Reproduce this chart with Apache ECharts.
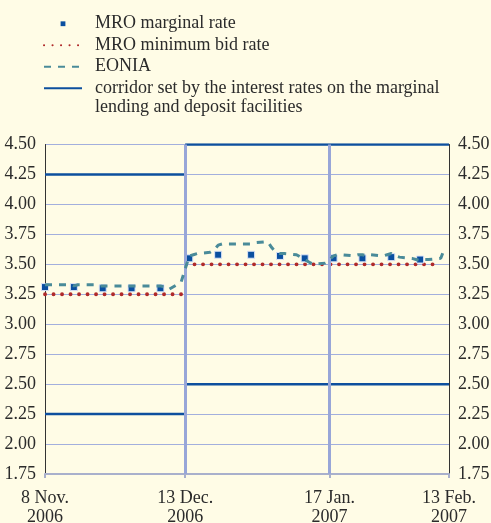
<!DOCTYPE html>
<html>
<head>
<meta charset="utf-8">
<script src="https://cdn.jsdelivr.net/npm/echarts@6/dist/echarts.min.js"></script>
<style>
html,body{margin:0;padding:0;background:#fffce6;}
#c{width:491px;height:523px;}
</style>
</head>
<body>
<div id="c"></div>
<script>
// ---- data ----
const xTickDays = [0, 34, 69, 98];
const xTickLabels = ['8 Nov.\n2006', '13 Dec.\n2006', '17 Jan.\n2007', '13 Feb.\n2007'];
const operationDays = [34, 69];

const regimeDays = [0, 34, 98];
const corridorUpper = [4.25, 4.50];
const corridorLower = [2.25, 2.50];
const minBidDays = [0, 33.5, 34.2, 95.5];
const minBidRate = [3.25, 3.50];

const mroDays = [0, 7, 14, 21, 28, 35, 42, 50, 57, 63, 70, 77, 84, 91];
const mroMarginal = [3.31, 3.31, 3.30, 3.30, 3.30, 3.55, 3.58, 3.58, 3.57, 3.55, 3.55, 3.55, 3.56, 3.54];

const eoniaDays = [0,1,2,5,6,7,8,9,12,13,14,15,16,19,20,21,22,23,26,27,28,29,30,33,34,35,36,37,40,41,42,43,44,47,49,50,51,54,55,56,57,58,61,62,63,64,65,68,69,70,71,72,75,76,77,78,79,82,83,84,85,86,89,90,91,92,93,96,97];
const eonia = [3.33,3.33,3.33,3.33,3.33,3.32,3.33,3.33,3.33,3.32,3.32,3.32,3.32,3.32,3.32,3.32,3.32,3.32,3.32,3.32,3.32,3.31,3.29,3.35,3.46,3.57,3.58,3.59,3.60,3.62,3.66,3.67,3.67,3.67,3.67,3.67,3.68,3.69,3.64,3.60,3.59,3.59,3.58,3.56,3.54,3.52,3.50,3.51,3.54,3.57,3.58,3.58,3.57,3.58,3.58,3.57,3.58,3.57,3.58,3.59,3.57,3.56,3.55,3.54,3.53,3.54,3.54,3.55,3.64];

const names = ['MRO marginal rate', 'MRO minimum bid rate', 'EONIA', 'corridor set by the interest rates on the marginal'];
const name2ndLine = 'lending and deposit facilities';

// ---- build ----
function stepPairs(days, vals) {
  const out = [];
  vals.forEach((v, i) => {
    if (i > 0) out.push('-');
    out.push([days[i], v], [days[i + 1], v]);
  });
  return out;
}
const corridorData = stepPairs(regimeDays, corridorUpper).concat(['-'], stepPairs(regimeDays, corridorLower));
const minBidData = [[minBidDays[0], minBidRate[0]], [minBidDays[1], minBidRate[0]], '-', [minBidDays[2], minBidRate[1]], [minBidDays[3], minBidRate[1]]];

const font = 'Liberation Serif';
const txt = '#2b2b2b';
const noSym = {color: 'rgba(0,0,0,0)', borderWidth: 0};
const chart = echarts.init(document.getElementById('c'));
chart.setOption({
  backgroundColor: '#fffce6',
  animation: false,
  textStyle: {fontFamily: font},
  legend: {
    orient: 'vertical', left: 43, top: 13, padding: 0, itemGap: 0,
    itemWidth: 38, itemHeight: 6,
    data: [
      {name: names[0], itemStyle: {borderWidth: 0}, lineStyle: {opacity: 0, width: 0}},
      {name: names[1], itemStyle: noSym},
      {name: names[2], itemStyle: noSym},
      {name: names[3], itemStyle: noSym}
    ],
    textStyle: {fontFamily: font, fontSize: 18, color: txt, lineHeight: 21.5, padding: [0, 0, 0, 8]}
  },
  graphic: [{
    type: 'text', left: 95, top: 98.5,
    style: {text: name2ndLine, fontFamily: font, fontSize: 18, fill: txt}
  }],
  grid: {left: 45, right: 42, top: 144.5, bottom: 49, outerBoundsMode: 'none', containLabel: false},
  xAxis: {
    type: 'value', min: 0, max: 98,
    axisLine: {show: true, lineStyle: {color: '#a9b0cc', width: 2}},
    axisTick: {show: true, customValues: xTickDays, length: 4, lineStyle: {color: '#a9b0cc', width: 2}},
    axisLabel: {customValues: xTickDays, margin: 15, fontSize: 18, color: txt, lineHeight: 19, fontFamily: font,
      formatter: v => xTickLabels[xTickDays.indexOf(v)] || ''},
    splitLine: {show: false}
  },
  yAxis: [{
    type: 'value', min: 1.75, max: 4.5, interval: 0.25, position: 'left',
    axisLine: {show: true, lineStyle: {color: '#333', width: 1}},
    axisTick: {show: false},
    axisLabel: {fontSize: 18, color: txt, margin: 9, fontFamily: font, formatter: v => v.toFixed(2)},
    splitLine: {show: true, lineStyle: {color: '#a3afdd', width: 1}}
  }, {
    type: 'value', min: 1.75, max: 4.5, interval: 0.25, position: 'right',
    axisLine: {show: true, lineStyle: {color: '#333', width: 1}},
    axisTick: {show: false},
    axisLabel: {fontSize: 18, color: txt, margin: 9, fontFamily: font, formatter: v => v.toFixed(2)},
    splitLine: {show: false}
  }],
  series: [{
    type: 'line', name: '_ops', data: [], silent: true, z: 1,
    markLine: {
      silent: true, symbol: ['none', 'none'], label: {show: false},
      lineStyle: {color: '#98a6d8', width: 3, type: 'solid'},
      data: operationDays.map(d => ({xAxis: d}))
    }
  }, {
    type: 'line', name: names[3], data: corridorData, symbol: 'none', z: 2,
    lineStyle: {color: '#0d4f9e', width: 2.5}, itemStyle: {color: '#0d4f9e'}
  }, {
    type: 'line', name: names[1], data: minBidData, symbol: 'none', z: 3,
    lineStyle: {color: '#b02a2a', width: 3.8, type: [0.1, 8.4], cap: 'round'}, itemStyle: {color: '#b02a2a'}
  }, {
    type: 'line', name: names[0], data: mroDays.map((d, i) => [d, mroMarginal[i]]),
    symbol: 'rect', symbolSize: 7, showSymbol: true, z: 4,
    lineStyle: {opacity: 0, width: 0},
    itemStyle: {color: '#0a4fa0', borderColor: '#dbe3f7', borderWidth: 1, opacity: 1}
  }, {
    type: 'line', name: names[2], data: eoniaDays.map((d, i) => [d, eonia[i]]), symbol: 'none', z: 5,
    lineStyle: {color: '#4a8b99', width: 3, type: [7, 7]}, itemStyle: {color: '#4a8b99'}
  }]
});
</script>
</body>
</html>
